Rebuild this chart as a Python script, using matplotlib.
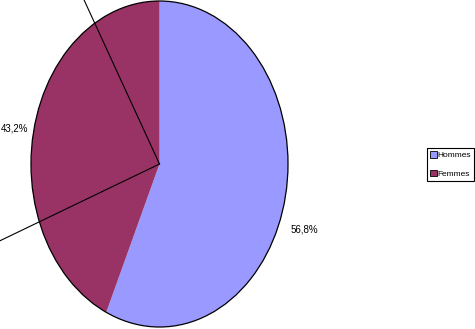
import matplotlib
matplotlib.use("Agg")
import matplotlib.pyplot as plt
from matplotlib.patches import Circle, Patch

plt.rcParams['font.family'] = ['Liberation Sans', 'DejaVu Sans']

# data
labels = ['Hommes', 'Femmes']
shares = [56.8, 43.2]
pct_text = ['56,8%', '43,2%']
colors = ['#9999FF', '#993366']

# label positions (data coords of the pie, radius 1) as moved in the original
label_pos = [(1.13, -0.40), (-1.13, 0.22)]
# leftover leader lines from the centre
leader_ends = [(-0.70, 1.20), (-1.45, -0.55)]

W, H = 475, 329
fig = plt.figure(figsize=(W / 100, H / 100), dpi=100)

# pie is stretched vertically: centre (159.5, 164), semi-axes 128.5 x 163 px
cx, cy, rx, ry = 159.5, 164, 128.5, 163
ax = fig.add_axes([(cx - rx) / W, (H - cy - ry) / H, 2 * rx / W, 2 * ry / H])

ax.pie(shares, colors=colors, startangle=90, counterclock=False,
       wedgeprops=dict(linewidth=0))
ax.set_aspect('auto')
ax.set_xlim(-1, 1)
ax.set_ylim(-1, 1)
ax.add_patch(Circle((0, 0), 1, fill=False, ec='black', lw=0.9, clip_on=False))

for ex, ey in leader_ends:
    ax.plot([0, ex], [0, ey], color='black', lw=0.8, clip_on=False)

for (x, y), t in zip(label_pos, pct_text):
    ax.text(x, y, t, ha='center', va='center', fontsize=7, clip_on=False)

handles = [Patch(facecolor=c, edgecolor='black', linewidth=0.6) for c in colors]
leg = fig.legend(handles, labels, loc='upper right',
                 bbox_to_anchor=(474.5 / W, (H - 148) / H),
                 fontsize=6.0, frameon=True, fancybox=False, edgecolor='black',
                 framealpha=1, borderpad=0.4, handlelength=0.8, handleheight=0.8,
                 handletextpad=0.12, labelspacing=1.25, borderaxespad=0)
leg.get_frame().set_linewidth(0.8)

fig.savefig('out.png', dpi=100)
